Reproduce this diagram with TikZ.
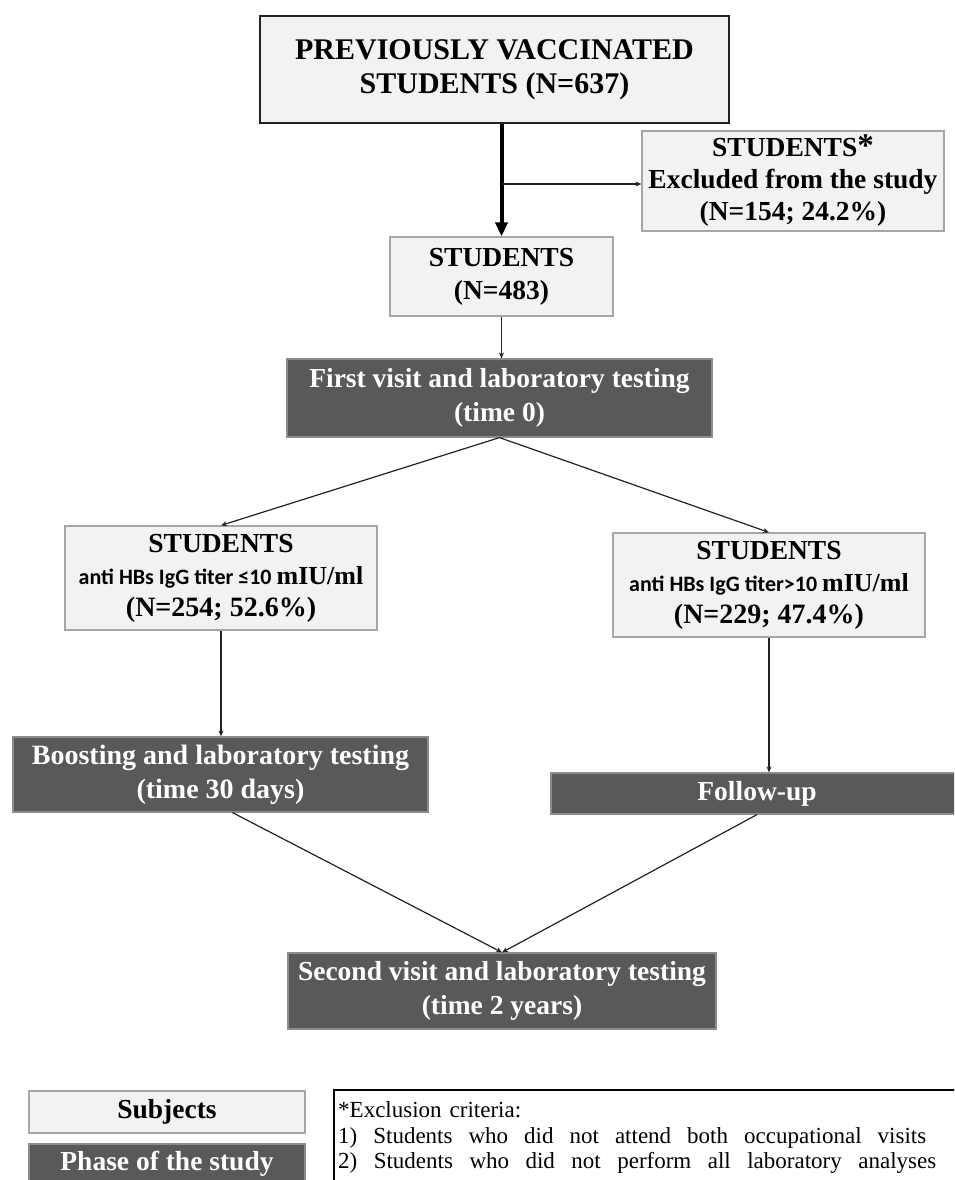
\documentclass[tikz,border=0pt]{standalone}
\usepackage{fontspec}
\setmainfont{Liberation Serif}
\newfontfamily\calfont{Carlito}
\usetikzlibrary{arrows.meta}
\definecolor{lightfill}{HTML}{F2F2F2}
\definecolor{lightdraw}{HTML}{A6A6A6}
\definecolor{darkfill}{HTML}{595959}
\definecolor{darkdraw}{HTML}{8C8C8C}
\definecolor{linecol}{HTML}{222222}
\newcommand\setfs[2]{\fontsize{#1}{#2}\selectfont}
\begin{document}
\begin{tikzpicture}[x=1pt,y=-1pt,
  lightbox/.style={draw=lightdraw, fill=lightfill, line width=1.2pt, inner sep=0pt, align=center},
  darkbox/.style={draw=darkdraw, fill=darkfill, line width=1.2pt, text=white, inner sep=0pt, align=center},
  conn/.style={draw=linecol, line width=1.2pt, -{Stealth[length=6pt,width=5pt]}},
  crit/.style={anchor=base west, inner sep=0pt, font=\setfs{23}{25}},
]
\useasboundingbox (0,0) rectangle (954,1180);
\clip (0,0) rectangle (954,1180);

\node[lightbox, draw=linecol, line width=1.6pt, minimum width=469pt, minimum height=107pt,
  font=\bfseries\setfs{30}{34}] (top) at (494.5,69.5)
  {PREVIOUSLY VACCINATED\\STUDENTS (N=637)};
\node[lightbox, minimum width=302pt, minimum height=100pt, font=\bfseries\setfs{27.5}{32}] (excl) at (793,181)
  {STUDENTS{\setfs{33}{32}*}\\Excluded from the study\\(N=154; 24.2\%)};
\node[lightbox, minimum width=223pt, minimum height=79pt, font=\bfseries\setfs{27.5}{33}] (stud) at (501.5,276.5)
  {STUDENTS\\(N=483)};
\node[darkbox, minimum width=425pt, minimum height=78pt, font=\bfseries\setfs{27.5}{34}] (first) at (499.5,398)
  {First visit and laboratory testing\\(time 0)};
\node[lightbox, minimum width=312pt, minimum height=104pt, font=\bfseries\setfs{27.5}{32}] (left) at (221,578)
  {STUDENTS\\{\calfont\setfs{22}{32}anti HBs IgG titer ≤10 }{\setfs{26}{32}mIU/ml}\\{\setfs{28}{32}(N=254; 52.6\%)}};
\node[lightbox, minimum width=312pt, minimum height=104pt, font=\bfseries\setfs{27.5}{32}] (right) at (769,585)
  {STUDENTS\\{\calfont\setfs{22}{32}anti HBs IgG titer>10 }{\setfs{26}{32}mIU/ml}\\{\setfs{28}{32}(N=229; 47.4\%)}};
\node[darkbox, minimum width=415pt, minimum height=75pt, font=\bfseries\setfs{28}{34}] (boost) at (220.5,774.5)
  {Boosting and laboratory testing\\(time 30 days)};
\node[darkbox, minimum width=412pt, minimum height=41pt, font=\bfseries\setfs{27.5}{30}] (follow) at (757,793.5)
  {Follow-up};
\node[darkbox, minimum width=428pt, minimum height=76pt, font=\bfseries\setfs{27.5}{34}] (second) at (502,991)
  {Second visit and laboratory testing\\(time 2 years)};
\node[lightbox, minimum width=276pt, minimum height=42pt, font=\bfseries\setfs{27.5}{30}] (subj) at (167,1112)
  {Subjects};
\node[darkbox, minimum width=276pt, minimum height=40pt, font=\bfseries\setfs{27.5}{30}] (phase) at (167,1164)
  {Phase of the study};

\draw[draw=black, line width=1.6pt] (334,1090) rectangle (975,1200);
\node[crit] (c1) at (338,1117) {*Exclusion\hspace{8pt}criteria:};
\node[crit] (c2) at (338,1143) {\hbox to 598pt{1) Students who did not attend both occupational visits\hspace{10pt}}};
\node[crit] (c3) at (338,1168) {\hbox to 598pt{2) Students who did not perform all laboratory analyses}};

\draw[draw=black, line width=4pt, -{Triangle[length=14pt,width=12pt]}] (stud.north |- top.south) -- (stud.north);
\coordinate (br) at (stud.north |- 0,184);
\draw[conn] (br) -- (br -| excl.west);
\draw[conn] (stud.south) -- (stud.south |- first.north);
\draw[conn] (first.south) -- (left.north);
\draw[conn] (first.south) -- (right.north);
\draw[conn] (left.south) -- (left.south |- boost.north);
\draw[conn] (right.south) -- (right.south |- follow.north);
\draw[conn] ([xshift=12pt]boost.south) -- (second.north);
\draw[conn] (follow.south) -- (second.north);
\end{tikzpicture}
\end{document}
